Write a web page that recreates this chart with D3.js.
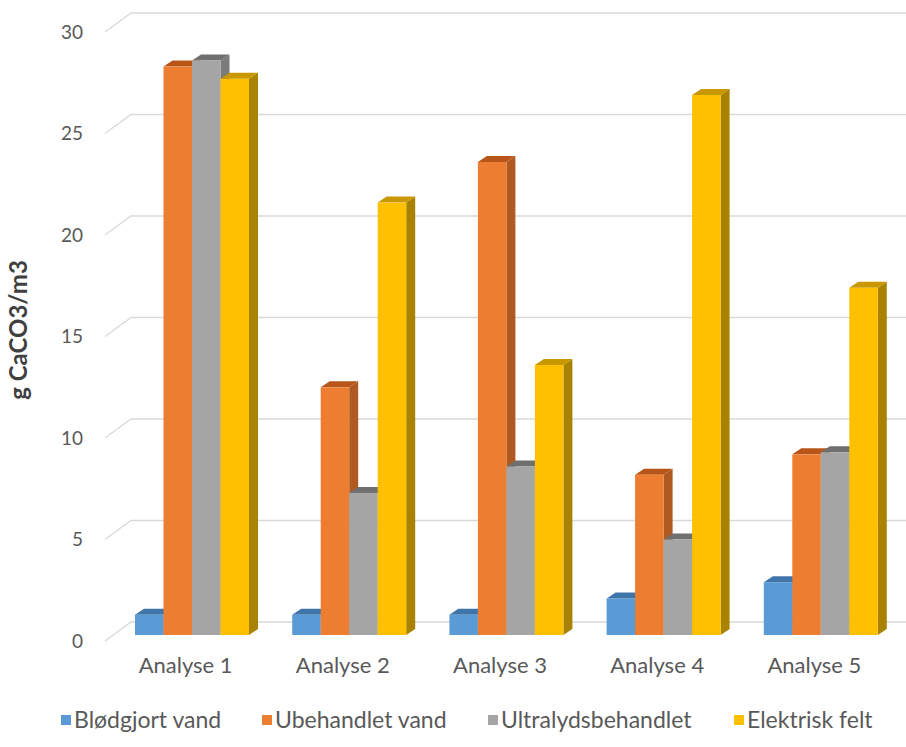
<!DOCTYPE html>
<html>
<head>
<meta charset="utf-8">
<script src="https://cdn.jsdelivr.net/npm/d3@7"></script>
<style>
  html, body { margin: 0; padding: 0; background: #ffffff; }
  svg { display: block; }
  text { font-family: "Lato", "Liberation Sans", sans-serif; fill: #595959; }
</style>
</head>
<body>
<script>
// Chart data
const categories = ["Analyse 1", "Analyse 2", "Analyse 3", "Analyse 4", "Analyse 5"];
const seriesNames = ["Blødgjort vand", "Ubehandlet vand", "Ultralydsbehandlet", "Elektrisk felt"];
const bloedgjortVand = [1.0, 1.0, 1.0, 1.8, 2.6];
const ubehandletVand = [28.0, 12.2, 23.3, 7.9, 8.9];
const ultralydsbehandlet = [28.3, 7.0, 8.3, 4.7, 9.0];
const elektriskFelt = [27.4, 21.3, 13.3, 26.6, 17.1];
const yTicks = [0, 5, 10, 15, 20, 25, 30];
const yTitle = "g CaCO3/m3";

const seriesValues = [bloedgjortVand, ubehandletVand, ultralydsbehandlet, elektriskFelt];

// face colours: front, top, side
const palette = [
  { front: "#5b9bd5", top: "#3f75a8", side: "#3a6d9c" },
  { front: "#ed7d31", top: "#b8561a", side: "#b05a22" },
  { front: "#a5a5a5", top: "#6f6f6f", side: "#7b7b7b" },
  { front: "#ffc000", top: "#c99700", side: "#a98300" }
];

const W = 906, H = 747;
const svg = d3.select("body").append("svg").attr("width", W).attr("height", H);

// oblique projection offsets
const wall = { dx: 26, dy: -19 };   // floor front edge -> back wall
const barFront = { dy: 13 };        // bar front face below back wall baseline
const barDepth = { dx: 9, dy: -6 }; // bar front -> bar back

const y = d3.scaleLinear().domain([0, 30]).range([622, 13]);
const wallLeft = 131, wallRight = W;

const x0 = d3.scaleBand().domain(categories).range([107, 893]).paddingInner(0).paddingOuter(0);
const groupOffset = 28, groupWidth = 114;
const x1 = d3.scaleBand().domain(d3.range(seriesNames.length)).range([0, groupWidth]).padding(0);

// gridlines on the side and back walls
const grid = svg.append("g").attr("class", "grid");
grid.selectAll("path").data(yTicks).join("path")
  .attr("d", t => {
    const yb = y(t);
    return `M${wallLeft - wall.dx},${yb - wall.dy} L${wallLeft},${yb} L${wallRight},${yb}`;
  })
  .attr("fill", "none")
  .attr("stroke", "#d9d9d9")
  .attr("stroke-width", 1.3);

// value axis labels
svg.append("g").selectAll("text").data(yTicks).join("text")
  .attr("x", 83)
  .attr("y", t => y(t) - wall.dy)
  .attr("dy", "0.35em")
  .attr("text-anchor", "end")
  .attr("font-size", 19)
  .text(t => t);

// axis title
svg.append("text")
  .attr("transform", `translate(19,${330}) rotate(-90)`)
  .attr("text-anchor", "middle")
  .attr("dy", "0.35em")
  .attr("font-size", 24)
  .attr("font-weight", "bold")
  .style("fill", "#404040")
  .text(yTitle);

// 3D bars
const bars = svg.append("g").attr("class", "bars");
categories.forEach((cat, ci) => {
  const g = bars.append("g");
  seriesValues.forEach((vals, si) => {
    const v = vals[ci];
    const xl = x0(cat) + groupOffset + x1(si);
    const w = x1.bandwidth();
    const yb = y(0) + barFront.dy;
    const yt = y(v) + barFront.dy;
    const c = palette[si];
    const dx = barDepth.dx, dy = barDepth.dy;
    // side face
    g.append("path")
      .attr("d", `M${xl + w},${yt} L${xl + w + dx},${yt + dy} L${xl + w + dx},${yb + dy} L${xl + w},${yb} Z`)
      .attr("fill", c.side);
    // top face
    g.append("path")
      .attr("d", `M${xl},${yt} L${xl + dx},${yt + dy} L${xl + w + dx},${yt + dy} L${xl + w},${yt} Z`)
      .attr("fill", c.top);
    // front face
    g.append("rect")
      .attr("x", xl).attr("y", yt)
      .attr("width", w).attr("height", yb - yt)
      .attr("fill", c.front);
  });
});

// category labels
svg.append("g").selectAll("text").data(categories).join("text")
  .attr("x", d => x0(d) + x0.bandwidth() / 2)
  .attr("y", 665)
  .attr("dy", "0.35em")
  .attr("text-anchor", "middle")
  .attr("font-size", 22)
  .text(d => d);

// legend
const legendX = [61, 262, 488, 734];
const legend = svg.append("g").selectAll("g").data(seriesNames).join("g")
  .attr("transform", (d, i) => `translate(${legendX[i]},${720})`);
legend.append("rect")
  .attr("x", 0).attr("y", -5).attr("width", 10).attr("height", 10)
  .attr("fill", (d, i) => palette[i].front);
legend.append("text")
  .attr("x", 13).attr("y", 0).attr("dy", "0.35em")
  .attr("font-size", 23)
  .text(d => d);
</script>
</body>
</html>
